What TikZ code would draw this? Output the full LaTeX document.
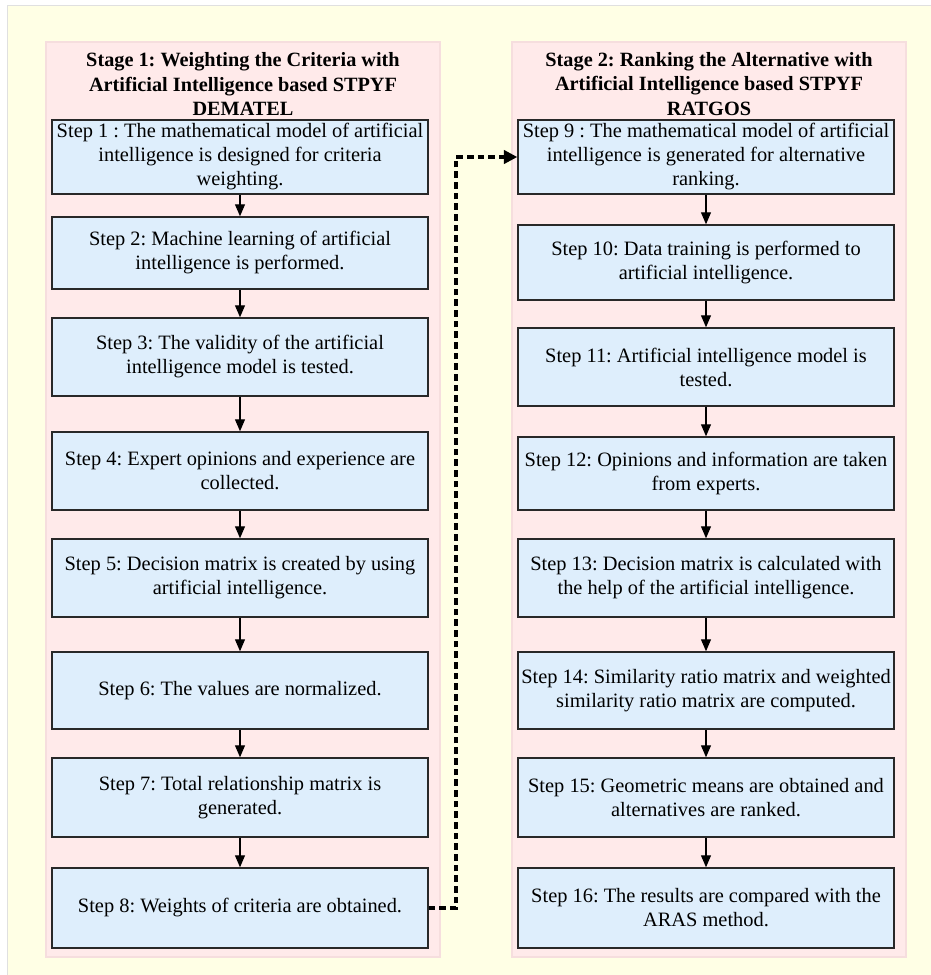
\documentclass[tikz,border=0pt]{standalone}
\usepackage{fontspec}
\setmainfont{Liberation Serif}
\usetikzlibrary{arrows.meta}
\definecolor{bgyellow}{RGB}{255,255,229}
\definecolor{panelpink}{RGB}{255,234,234}
\definecolor{panelline}{RGB}{246,222,222}
\definecolor{boxblue}{RGB}{222,238,252}
\definecolor{boxline}{RGB}{40,40,40}
\tikzset{
  stepbox/.style={draw=boxline, line width=1.1pt, fill=boxblue, align=center,
    inner sep=0pt, minimum width=282pt,
    font=\frenchspacing\fontsize{15.3}{18}\selectfont},
  stagehead/.style={align=center, inner sep=0pt,
    font=\frenchspacing\bfseries\fontsize{15.2}{18.7}\selectfont},
  arr/.style={line width=0.8pt, -{Triangle[length=9pt,width=7.5pt]}},
  dconn/.style={line width=2.3pt, dash pattern=on 5pt off 3pt,
    -{Triangle[length=10pt,width=10pt]}},
}
\begin{document}
\begin{tikzpicture}[x=0.75pt,y=-0.75pt]
\useasboundingbox (0,0) rectangle (931,975);
\fill[white] (0,0) rectangle (931,975);
\filldraw[fill=bgyellow, draw=black!12, line width=0.6pt] (7,5) rectangle (935,980);
\filldraw[fill=panelpink, draw=panelline, line width=0.8pt] (46,42) rectangle (440,957);
\filldraw[fill=panelpink, draw=panelline, line width=0.8pt] (512,42) rectangle (906,957);

\node[stagehead] (h1) at (243,84) {Stage 1: Weighting the Criteria with\\Artificial Intelligence based STPYF\\DEMATEL};
\node[stagehead] (h2) at (709,84) {Stage 2: Ranking the Alternative with\\Artificial Intelligence based STPYF\\RATGOS};

% left column
\node[stepbox, minimum height=55.5pt] (s1) at (240,157) {Step 1 : The mathematical model of artificial\\intelligence is designed for criteria\\weighting.};
\node[stepbox, minimum height=54pt] (s2) at (240,253) {Step 2: Machine learning of artificial\\intelligence is performed.};
\node[stepbox, minimum height=58.5pt] (s3) at (240,357) {Step 3: The validity of the artificial\\intelligence model is tested.};
\node[stepbox, minimum height=58.5pt] (s4) at (240,471) {Step 4: Expert opinions and experience are\\collected.};
\node[stepbox, minimum height=58.5pt] (s5) at (240,578) {Step 5: Decision matrix is created by using\\artificial intelligence.};
\node[stepbox, minimum height=57.75pt] (s6) at (240,690.5) {Step 6: The values are normalized.};
\node[stepbox, minimum height=59.25pt] (s7) at (240,797.5) {Step 7: Total relationship matrix is\\generated.};
\node[stepbox, minimum height=60pt] (s8) at (240,908) {Step 8: Weights of criteria are obtained.};

% right column
\node[stepbox, minimum height=55.5pt] (s9) at (706,157) {Step 9 : The mathematical model of artificial\\intelligence is generated for alternative\\ranking.};
\node[stepbox, minimum height=56.25pt] (s10) at (706,262.5) {Step 10: Data training is performed to\\artificial intelligence.};
\node[stepbox, minimum height=58.5pt] (s11) at (706,367) {Step 11: Artificial intelligence model is\\tested.};
\node[stepbox, minimum height=54.75pt] (s12) at (706,473.5) {Step 12: Opinions and information are taken\\from experts.};
\node[stepbox, minimum height=58.5pt] (s13) at (706,578) {Step 13: Decision matrix is calculated with\\the help of the artificial intelligence.};
\node[stepbox, minimum height=57.75pt] (s14) at (706,690.5) {Step 14: Similarity ratio matrix and weighted\\similarity ratio matrix are computed.};
\node[stepbox, minimum height=59.25pt] (s15) at (706,797.5) {Step 15: Geometric means are obtained and\\alternatives are ranked.};
\node[stepbox, minimum height=60pt] (s16) at (706,908) {Step 16: The results are compared with the\\ARAS method.};

\foreach \a/\b in {s1/s2,s2/s3,s3/s4,s4/s5,s5/s6,s6/s7,s7/s8,
                   s9/s10,s10/s11,s11/s12,s12/s13,s13/s14,s14/s15,s15/s16}
  \draw[arr] (\a.south) -- (\b.north);

\coordinate (jx) at (456,0);
\draw[dconn] (s8.east) -- (s8.east -| jx) |- (s9.west);
\end{tikzpicture}
\end{document}
